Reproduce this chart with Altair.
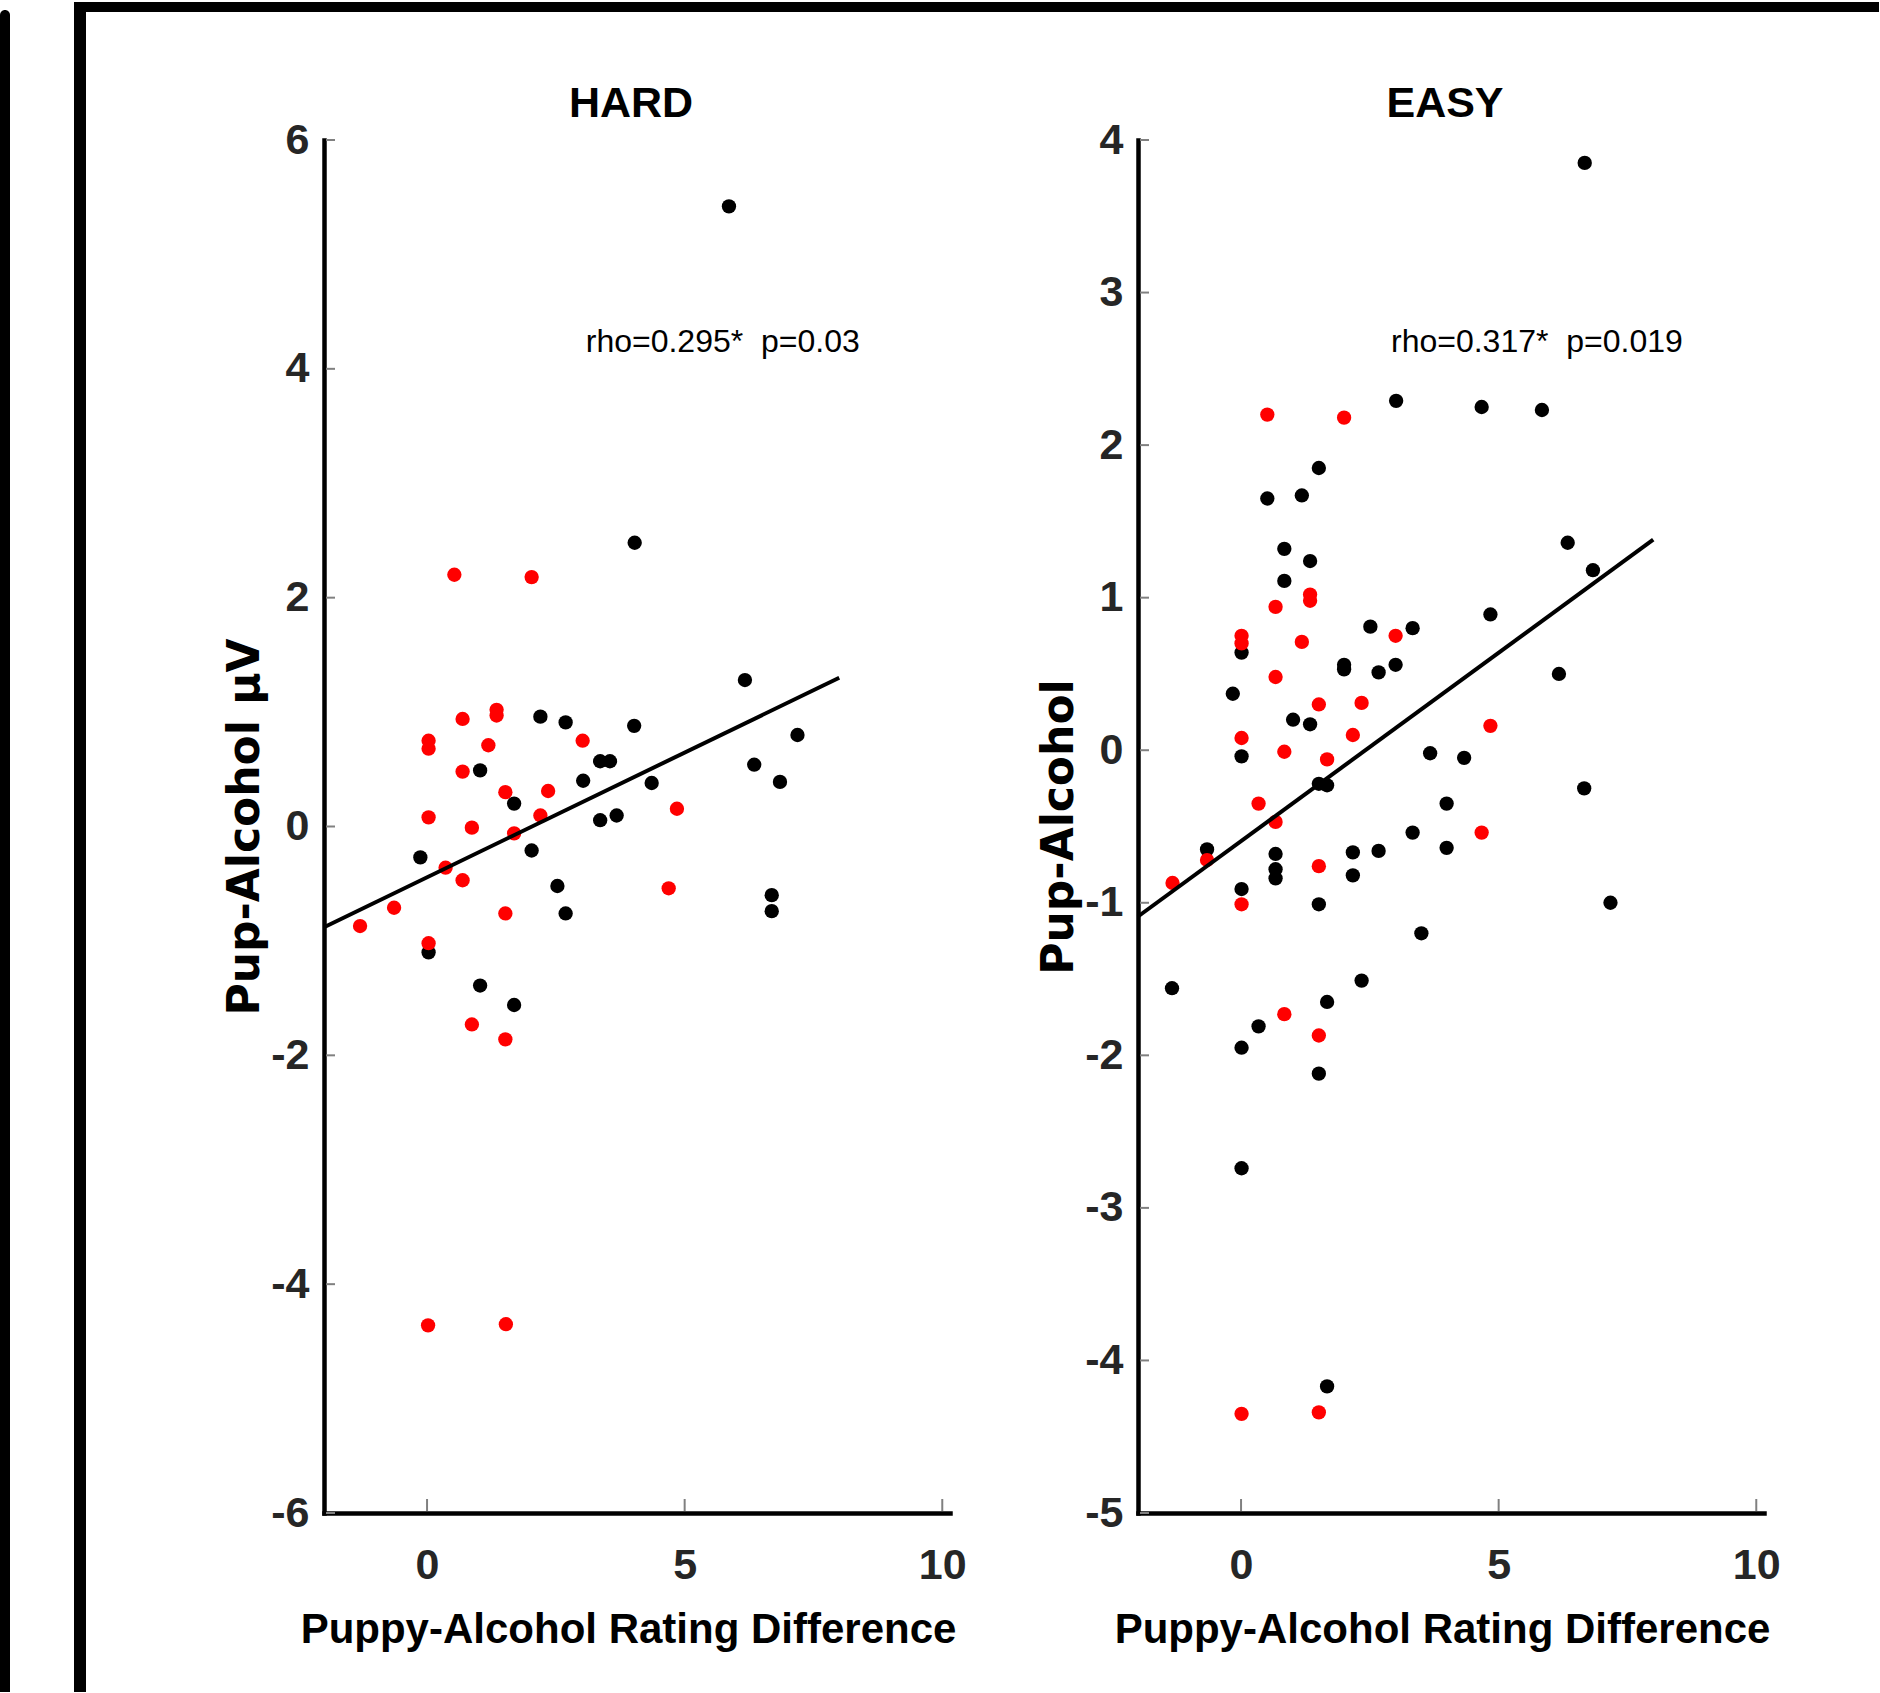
import altair as alt
import pandas as pd

# ---------------- data ----------------
panel_titles = ["HARD", "EASY"]
y_titles = ["Pup-Alcohol μV", "Pup-Alcohol"]
x_title = "Puppy-Alcohol Rating Difference"
stats_text = ["rho=0.295*\u00a0 p=0.03", "rho=0.317*\u00a0 p=0.019"]
stats_x = [3.08, 2.91]
stats_y = [4.15, 2.61]

x_ticks = [0, 5, 10]
x_domain = [-2, 10.15]
hard_y_ticks = [6, 4, 2, 0, -2, -4, -6]
hard_y_domain = [-6, 6]
easy_y_ticks = [4, 3, 2, 1, 0, -1, -2, -3, -4, -5]
easy_y_domain = [-5, 4]

hard_black_x = [5.86, 4.03, 6.17, 2.20, 2.69, 4.02, 7.19, 3.36, 3.55, 6.35, 3.03, 4.36, 6.85,
                1.03, 1.69, 3.36, 3.68, -0.13, 2.03, 2.53, 2.69, 6.69, 6.69, 0.03, 1.03, 1.69]
hard_black_y = [5.42, 2.48, 1.28, 0.96, 0.91, 0.88, 0.80, 0.57, 0.57, 0.54, 0.40, 0.38, 0.39,
                0.49, 0.20, 0.055, 0.096, -0.27, -0.21, -0.52, -0.76, -0.60, -0.74, -1.10, -1.39, -1.56]
hard_red_x = [0.53, 2.03, 0.69, 1.35, 1.35, 0.03, 0.03, 1.19, 3.02, 0.69, 1.52, 2.35, 0.03, 2.20,
              0.87, 1.69, 4.85, 0.36, 0.69, 4.69, -0.64, -1.30, 1.52, 0.03, 0.87, 1.52, 0.02, 1.53]
hard_red_y = [2.20, 2.18, 0.94, 1.02, 0.97, 0.75, 0.68, 0.71, 0.75, 0.48, 0.30, 0.31, 0.08, 0.096,
              -0.01, -0.06, 0.155, -0.36, -0.47, -0.54, -0.71, -0.87, -0.76, -1.02, -1.73, -1.86, -4.36, -4.35]
hard_fit_x = [-2, 8]
hard_fit_y = [-0.88, 1.30]

easy_black_x = [6.67, 3.01, 4.67, 5.84, 1.51, 0.51, 1.18, 6.34, 0.84, 1.34, 0.84, 6.83, 4.84, 2.51,
                3.33, 0.01, 2.00, 2.00, 2.67, 3.00, 6.17, -0.16, 1.01, 1.34, 0.01, 3.67, 4.33, 1.51,
                1.67, 6.66, 3.99, 3.33, -0.66, 3.99, 2.17, 2.67, 0.67, 0.67, 0.67, 2.17, 0.01, 1.51,
                7.17, 3.50, -1.34, 0.34, 0.01, 1.67, 2.34, 1.51, 0.01, 1.67]
easy_black_y = [3.85, 2.29, 2.25, 2.23, 1.85, 1.65, 1.67, 1.36, 1.32, 1.24, 1.11, 1.18, 0.89, 0.81,
                0.80, 0.64, 0.56, 0.53, 0.51, 0.56, 0.50, 0.37, 0.20, 0.17, -0.04, -0.02, -0.05, -0.22,
                -0.23, -0.25, -0.35, -0.54, -0.65, -0.64, -0.67, -0.66, -0.68, -0.78, -0.84, -0.82, -0.91, -1.01,
                -1.00, -1.20, -1.56, -1.81, -1.95, -1.65, -1.51, -2.12, -2.74, -4.17]
easy_red_x = [0.51, 2.00, 0.67, 1.34, 1.34, 0.01, 0.01, 1.18, 3.00, 0.67, 1.51, 2.34, 0.01, 2.17,
              0.84, 1.67, 4.84, 0.34, 0.67, 4.67, -0.66, -1.33, 1.51, 0.01, 0.84, 1.51, 0.01, 1.51]
easy_red_y = [2.20, 2.18, 0.94, 1.02, 0.98, 0.75, 0.70, 0.71, 0.75, 0.48, 0.30, 0.31, 0.08, 0.10,
              -0.01, -0.06, 0.16, -0.35, -0.47, -0.54, -0.72, -0.87, -0.76, -1.01, -1.73, -1.87, -4.35, -4.34]
easy_fit_x = [-2, 8]
easy_fit_y = [-1.09, 1.38]

# ---------------- styling ----------------
W, H = 626, 1373
BOLD = "Liberation Sans, Arial, sans-serif"
REGULAR = "Liberation Sans, Arial, sans-serif"
YTITLE_FONT = "DejaVu Sans, sans-serif"
HYPHEN_LABELS = "replace(datum.label, '\u2212', '-')"


def panel(bx, by, rx, ry, fx, fy, yticks, ydom, ytitle, title, stat_t, stat_x, stat_y, frame=False):
    xs = alt.Scale(domain=x_domain, nice=False, zero=False)
    ys = alt.Scale(domain=ydom, nice=False, zero=False)
    xaxis = alt.Axis(values=x_ticks, ticks=False, tickSize=0, grid=False,
                     domainColor="black", domainWidth=4.5, domainCap="square",
                     labelFont=BOLD, labelFontSize=43, labelFontWeight="bold",
                     labelColor="#262626", labelPadding=31, labelFlush=False,
                     labelOverlap=False, labelExpr=HYPHEN_LABELS,
                     title=x_title, titleFont=BOLD, titleFontSize=42,
                     titleFontWeight="bold", titleColor="black",
                     titleX=304, titleY=129, titleAlign="center",
                     titleBaseline="alphabetic")
    yaxis = alt.Axis(values=yticks, ticks=False, tickSize=0, grid=False,
                     domainColor="black", domainWidth=4.5, domainCap="square",
                     labelFont=BOLD, labelFontSize=43, labelFontWeight="bold",
                     labelColor="#262626", labelPadding=15, labelFlush=False,
                     labelOverlap=False, labelExpr=HYPHEN_LABELS,
                     title=ytitle, titleFont=YTITLE_FONT, titleFontSize=44,
                     titleFontWeight="bold", titleColor="black",
                     titleAngle=270, titleX=-66, titleY=H / 2,
                     titleAlign="center", titleBaseline="alphabetic")

    pts = pd.DataFrame({
        "x": bx + rx,
        "y": by + ry,
        "c": ["black"] * len(bx) + ["#ff0000"] * len(rx),
    })
    points = alt.Chart(pts).mark_circle(size=205, opacity=1).encode(
        x=alt.X("x:Q", scale=xs, axis=xaxis),
        y=alt.Y("y:Q", scale=ys, axis=yaxis),
        color=alt.Color("c:N", scale=None),
    )
    fit = alt.Chart(pd.DataFrame({"x": fx, "y": fy})).mark_line(
        color="black", strokeWidth=4).encode(
        x=alt.X("x:Q", scale=xs, axis=xaxis),
        y=alt.Y("y:Q", scale=ys, axis=yaxis),
    )
    ytk = alt.Chart(pd.DataFrame({"y": yticks})).mark_rule(
        color="#808080", strokeWidth=2).encode(
        y=alt.Y("y:Q", scale=ys, axis=yaxis),
        x=alt.value(2), x2=alt.value(11),
    )
    xtk = alt.Chart(pd.DataFrame({"x": x_ticks})).mark_rule(
        color="#808080", strokeWidth=2).encode(
        x=alt.X("x:Q", scale=xs, axis=xaxis),
        y=alt.value(H - 2), y2=alt.value(H - 14),
    )
    stat = alt.Chart(pd.DataFrame({"x": [stat_x], "y": [stat_y], "t": [stat_t]})).mark_text(
        font=REGULAR, fontSize=32, align="left", baseline="alphabetic", color="black").encode(
        x=alt.X("x:Q", scale=xs, axis=xaxis),
        y=alt.Y("y:Q", scale=ys, axis=yaxis),
        text="t:N",
    )
    ttl = alt.Chart(pd.DataFrame({"t": [title]})).mark_text(
        font=BOLD, fontSize=43, fontWeight="bold", color="black",
        align="center", baseline="alphabetic").encode(
        text="t:N", x=alt.value(307), y=alt.value(-23),
    )
    layers = [points, ytk, xtk, fit, stat, ttl]
    if frame:
        dummy = pd.DataFrame({"k": [0]})
        left_bar = alt.Chart(dummy).mark_rect(
            color="black", cornerRadiusTopLeft=5, cornerRadiusTopRight=5).encode(
            x=alt.value(-324), x2=alt.value(-314), y=alt.value(-130), y2=alt.value(1552))
        frame_left = alt.Chart(dummy).mark_rect(color="black").encode(
            x=alt.value(-250), x2=alt.value(-238), y=alt.value(-138), y2=alt.value(1552))
        frame_top = alt.Chart(dummy).mark_rect(color="black").encode(
            x=alt.value(-250), x2=alt.value(1555), y=alt.value(-138), y2=alt.value(-128))
        layers = layers + [left_bar, frame_left, frame_top]
    return alt.layer(*layers).properties(width=W, height=H)


hard = panel(hard_black_x, hard_black_y, hard_red_x, hard_red_y, hard_fit_x, hard_fit_y,
             hard_y_ticks, hard_y_domain, y_titles[0], panel_titles[0],
             stats_text[0], stats_x[0], stats_y[0], frame=True)
easy = panel(easy_black_x, easy_black_y, easy_red_x, easy_red_y, easy_fit_x, easy_fit_y,
             easy_y_ticks, easy_y_domain, y_titles[1], panel_titles[1],
             stats_text[1], stats_x[1], stats_y[1])

chart = alt.hconcat(hard, easy, spacing=188, bounds="flush").properties(
    padding={"left": 0, "top": 2, "right": 0, "bottom": 0},
    background="white",
).configure_view(stroke=None)

chart.save("out.html", embed_options={"renderer": "svg", "actions": False})
